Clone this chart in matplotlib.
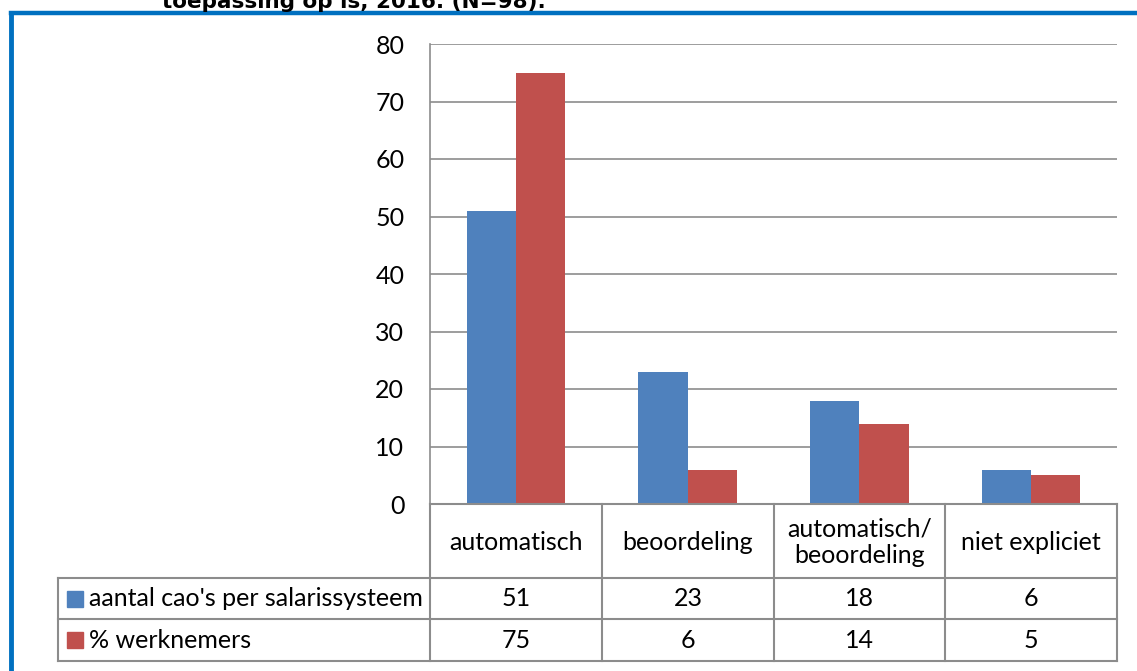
import matplotlib
matplotlib.use("Agg")
import matplotlib.pyplot as plt
from matplotlib.patches import Rectangle
from matplotlib.lines import Line2D

# data
categories = ["automatisch", "beoordeling", "automatisch/\nbeoordeling", "niet expliciet"]
series_names = ["aantal cao's per salarissysteem", "% werknemers"]
aantal_cao = [51, 23, 18, 6]
pct_werknemers = [75, 6, 14, 5]
colors = ["#4F81BD", "#C0504D"]
title = "toepassing op is, 2016. (N=98)."

W, H = 1137, 671
plt.rcParams["font.family"] = ["Lato", "DejaVu Sans"]
fig = plt.figure(figsize=(W / 100, H / 100), dpi=100)


def fx(px):
    return px / W


def fy(py):
    return 1 - py / H


# plot area in pixels
x0, x1 = 430, 1117
y_top, y_bot = 44, 504
ax = fig.add_axes([fx(x0), fy(y_bot), fx(x1) - fx(x0), fy(y_top) - fy(y_bot)])

n = len(categories)
bw = 0.287
xs = range(n)
ax.bar([x - bw / 2 for x in xs], aantal_cao, width=bw, color=colors[0], zorder=3)
ax.bar([x + bw / 2 for x in xs], pct_werknemers, width=bw, color=colors[1], zorder=3)
ax.set_xlim(-0.5, n - 0.5)
ax.set_ylim(0, 80)
ax.set_yticks(range(0, 81, 10))
ax.set_xticks([])
ax.yaxis.grid(True, color="#8c8c8c", linewidth=1.2, zorder=0)
for s in ["top", "right"]:
    ax.spines[s].set_visible(False)
ax.spines["left"].set_color("#8c8c8c")
ax.spines["left"].set_linewidth(1.2)
ax.spines["bottom"].set_visible(False)
ax.tick_params(axis="y", length=0, pad=18.5, labelsize=18)

# data table below the axes
gray = "#8c8c8c"
col_edges = [430, 602, 774, 945, 1117]
row_edges = [504, 578, 619, 661]
leg_left = 58
lines = []
lines.append(((x0, x1), (504, 504)))
for ry in row_edges[1:]:
    lines.append(((leg_left, x1), (ry, ry)))
for cx in col_edges:
    lines.append(((cx, cx), (504, 661)))
lines.append(((leg_left, leg_left), (578, 661)))
for (xa, xb), (ya, yb) in lines:
    fig.add_artist(Line2D([fx(xa), fx(xb)], [fy(ya), fy(yb)], color=gray, lw=1.5))

for i, cat in enumerate(categories):
    cx = (col_edges[i] + col_edges[i + 1]) / 2
    fig.text(fx(cx), fy((row_edges[0] + row_edges[1]) / 2 + 1), cat, ha="center", va="center",
             fontsize=18, linespacing=1.2)
    for r, vals in enumerate([aantal_cao, pct_werknemers]):
        cy = (row_edges[r + 1] + row_edges[r + 2]) / 2
        fig.text(fx(cx), fy(cy), str(vals[i]), ha="center", va="center", fontsize=18)

for r, name in enumerate(series_names):
    cy = (row_edges[r + 1] + row_edges[r + 2]) / 2
    fig.add_artist(Rectangle((fx(67), fy(cy + 8)), fx(16), fy(0) - fy(16), color=colors[r],
                             transform=fig.transFigure))
    fig.text(fx(89), fy(cy), name, ha="left", va="center", fontsize=18)

# blue frame (left + top) and cut-off title
frame = "#0070C0"
fig.add_artist(Line2D([fx(10.5), fx(10.5)], [0, fy(12.5)], color=frame, lw=3.5))
fig.add_artist(Line2D([fx(10.5), 1], [fy(12.5), fy(12.5)], color=frame, lw=3.2))
fig.text(fx(162), fy(8.5), title, ha="left", va="baseline", fontsize=15.5,
         fontweight="bold", family="DejaVu Sans")

fig.savefig("out.png", dpi=100)
